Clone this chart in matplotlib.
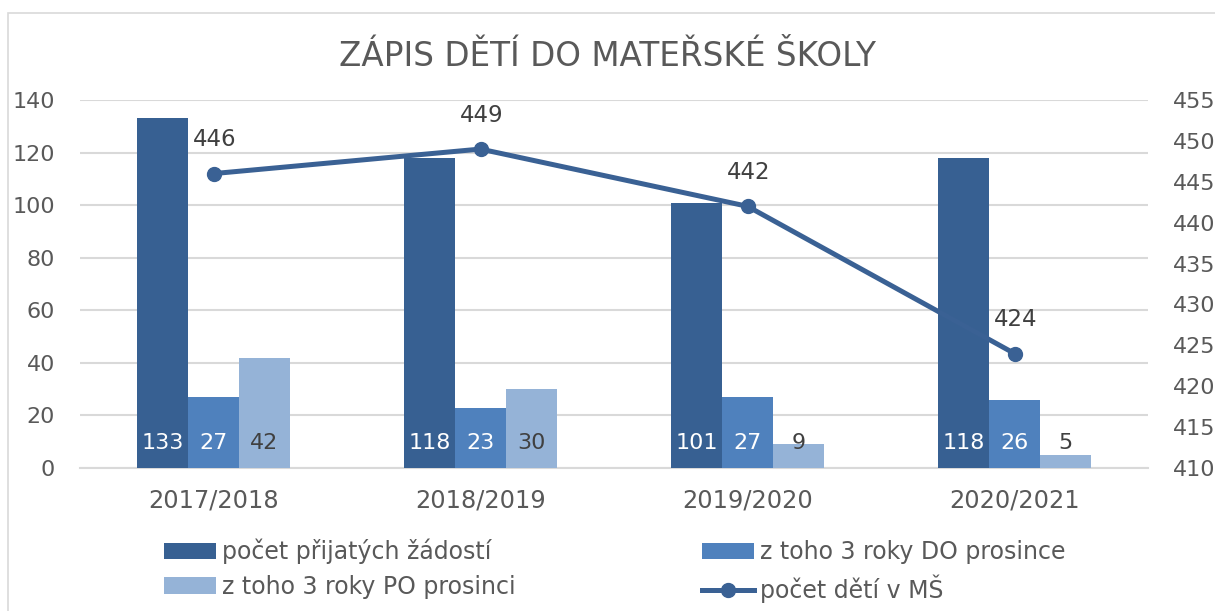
import matplotlib
matplotlib.use("Agg")
import matplotlib.pyplot as plt
from matplotlib.patches import Rectangle
import numpy as np

categories = ["2017/2018", "2018/2019", "2019/2020", "2020/2021"]
prijate = [133, 118, 101, 118]
do_prosince = [27, 23, 27, 26]
po_prosinci = [42, 30, 9, 5]
deti_ms = [446, 449, 442, 424]

series_names = ["počet přijatých žádostí", "z toho 3 roky DO prosince",
                "z toho 3 roky PO prosinci", "počet dětí v MŠ"]
title = "ZÁPIS DĚTÍ DO MATEŘSKÉ ŠKOLY"

c_dark = "#376092"
c_mid = "#4f81bd"
c_light = "#95b3d7"
c_line = "#3a6194"
c_text = "#595959"
c_grid = "#d9d9d9"

plt.rcParams['font.family'] = ['DejaVu Sans']
W, H = 1215, 611
fig = plt.figure(figsize=(W / 100, H / 100), dpi=100)
fig.patches.append(Rectangle((8 / W, -0.01), 1.0, 1 - 13 / H + 0.01, transform=fig.transFigure,
                             fill=False, edgecolor="#d9d9d9", linewidth=1.2))

ax = fig.add_axes([80 / W, 1 - 468 / H, (1148 - 80) / W, (468 - 100) / H])
ax2 = ax.twinx()

x = np.arange(len(categories))
w = 0.19
fs = 16

b1 = ax.bar(x - w, prijate, w, color=c_dark, label=series_names[0], zorder=3)
b2 = ax.bar(x, do_prosince, w, color=c_mid, label=series_names[1], zorder=3)
b3 = ax.bar(x + w, po_prosinci, w, color=c_light, label=series_names[2], zorder=3)

for bars, vals, col in [(b1, prijate, "white"), (b2, do_prosince, "white"), (b3, po_prosinci, "#404040")]:
    for rect, v in zip(bars, vals):
        ax.annotate(str(v), (rect.get_x() + rect.get_width() / 2, 0), xytext=(0, 11),
                    textcoords="offset points", ha="center", va="bottom",
                    fontsize=fs, color=col, zorder=5)

ln, = ax2.plot(x, deti_ms, color=c_line, linewidth=3.6, marker="o", markersize=10,
               label=series_names[3], zorder=4)
for xi, v in zip(x, deti_ms):
    ax2.annotate(str(v), (xi, v), xytext=(1, 16), textcoords="offset points",
                 ha="center", va="bottom", fontsize=16.5, color="#404040")

ax.set_xlim(-0.5, 3.5)
ax.set_ylim(0, 140)
ax.set_yticks(range(0, 141, 20))
ax2.set_ylim(410, 455)
ax2.set_yticks(range(410, 456, 5))
ax.set_xticks(x)
ax.set_xticklabels(categories)

ax.yaxis.grid(True, color=c_grid, linewidth=1.5, zorder=0)
ax.set_axisbelow(True)
for a in (ax, ax2):
    for s in ("top", "left", "right"):
        a.spines[s].set_visible(False)
    a.spines["bottom"].set_visible(False)
    a.tick_params(length=0, labelsize=fs, labelcolor=c_text)
ax.spines["bottom"].set_visible(True)
ax.spines["bottom"].set_color(c_grid)
ax.spines["bottom"].set_linewidth(1.5)
ax.tick_params(axis="x", pad=15, labelsize=17.3)
ax.tick_params(axis="y", pad=18)
ax2.tick_params(axis="y", pad=18)
ax2.set_zorder(ax.get_zorder() + 1)
ax2.patch.set_visible(False)

fig.text(0.5, 1 - 56 / H, title, ha="center", va="center", fontsize=23.5, color=c_text)

handles = [b1, b3, b2, ln]
labels = [series_names[0], series_names[2], series_names[1], series_names[3]]
fig.legend(handles, labels, ncol=2, loc="center left", bbox_to_anchor=(164 / W, 1 - 571 / H),
           frameon=False, fontsize=17, labelcolor=c_text, handlelength=2.2, handletextpad=0.25,
           columnspacing=7.9, labelspacing=0.45, borderpad=0, borderaxespad=0)

fig.savefig("out.png", dpi=100)
